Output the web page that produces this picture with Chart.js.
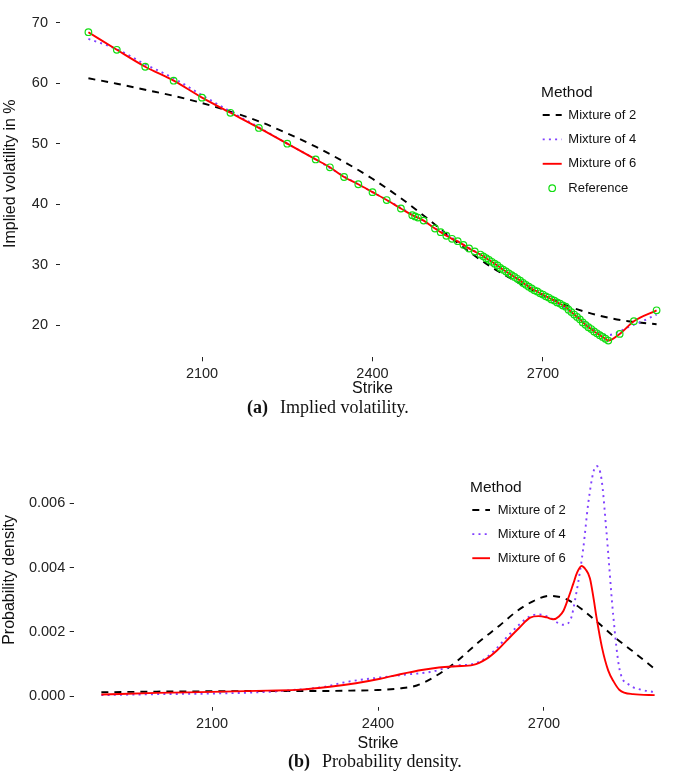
<!DOCTYPE html>
<html>
<head>
<meta charset="utf-8">
<script src="https://cdn.jsdelivr.net/npm/chart.js@4.4.1/dist/chart.umd.min.js"></script>
<style>
  html, body { margin: 0; padding: 0; background: #fff; }
  body { width: 685px; height: 781px; position: relative; overflow: hidden; }
  .box { position: absolute; left: 0; width: 685px; }
  .cap { position: absolute; font-family: "Liberation Serif", "Times New Roman", serif;
         font-size: 18px; line-height: 18px; color: #111; white-space: nowrap; }
  .cap span { margin-left: 12px; }
</style>
</head>
<body>
<div class="box" style="top:0;height:398px"><canvas id="iv" width="685" height="398"></canvas></div>
<div class="cap" style="left:247px;top:398px"><b>(a)</b><span>Implied volatility.</span></div>
<div class="box" style="top:440px;height:313px"><canvas id="dens" width="685" height="313"></canvas></div>
<div class="cap" style="left:288px;top:752px"><b>(b)</b><span>Probability density.</span></div>

<script>
/* ---- DATA: implied volatility ------------------------------- */
const refStrike = [1900, 1950, 2000, 2050, 2100, 2150, 2200, 2250, 2300, 2325, 2350, 2375, 2400, 2425, 2450,
  2470, 2475, 2480, 2490, 2510, 2520, 2530, 2540, 2550, 2560, 2570, 2580, 2590,
  2595, 2600, 2605, 2610, 2615, 2620, 2625, 2630, 2635, 2640, 2645, 2650, 2655, 2660, 2665, 2670, 2675, 2680,
  2685, 2690, 2695, 2700, 2705, 2710, 2715, 2720, 2725, 2730, 2735, 2740, 2745, 2750, 2755, 2760, 2765, 2770,
  2775, 2780, 2785, 2790, 2795, 2800, 2805, 2810, 2815, 2835, 2860, 2900];
const refVol = [68.4, 65.5, 62.7, 60.4, 57.6, 55.1, 52.6, 50.0, 47.4, 46.1, 44.5, 43.3, 42.0, 40.7, 39.3,
  38.2, 38.0, 37.8, 37.3, 36.0, 35.4, 34.8, 34.3, 33.9, 33.3, 32.7, 32.2, 31.7,
  31.4, 31.1, 30.8, 30.5, 30.2, 29.9, 29.5, 29.2, 28.9, 28.6, 28.3, 28.0, 27.7, 27.4, 27.0, 26.7, 26.4, 26.1,
  25.8, 25.6, 25.3, 25.1, 24.8, 24.6, 24.3, 24.1, 23.8, 23.6, 23.3, 23.1, 22.6, 22.2, 21.8, 21.4, 21.0, 20.5,
  20.1, 19.7, 19.4, 19.0, 18.7, 18.4, 18.1, 17.8, 17.5, 18.6, 20.7, 22.5];

// mixture of 6 goes through the quotes, so it uses refVol
const mix2Strike = [1900, 1950, 2000, 2050, 2100, 2150, 2200, 2250, 2300, 2350, 2400, 2450, 2500, 2550, 2600,
  2650, 2700, 2750, 2800, 2850, 2900];
const mix2Vol = [60.8, 59.9, 58.9, 57.9, 56.7, 55.3, 53.7, 51.7, 49.5, 47.0, 44.2, 41.0, 37.4, 33.6, 30.2,
  27.4, 25.0, 23.0, 21.6, 20.7, 20.2];

const mix4Strike = [1900, 1950, 2000, 2050, 2100, 2150, 2200, 2250, 2300, 2350, 2400, 2450, 2500, 2550, 2600,
  2650, 2700, 2750, 2780, 2800, 2815, 2830, 2850, 2875, 2900];
const mix4Vol = [67.3, 65.6, 63.1, 60.8, 58.0, 55.3, 52.7, 50.0, 47.4, 44.6, 42.0, 39.4, 36.6, 33.9, 31.1,
  28.0, 25.1, 22.2, 20.0, 18.8, 18.4, 18.8, 19.7, 20.7, 21.8];

/* ---- DATA: probability density ------------------------------ */
const d2Strike = [1900, 2000, 2100, 2200, 2300, 2350, 2400, 2440, 2470, 2500, 2540, 2580, 2620, 2650, 2680,
  2710, 2740, 2770, 2800, 2830, 2860, 2900];
const d2Val = [0.00012, 0.00014, 0.00015, 0.00016, 0.00016, 0.00017, 0.00019, 0.00024, 0.00033, 0.00058, 0.00105,
  0.00165, 0.00220, 0.00263, 0.00295, 0.00312, 0.00302, 0.00268, 0.00225, 0.00180, 0.00140, 0.00085];

const d4Strike = [1900, 2000, 2100, 2200, 2247, 2300, 2343, 2404, 2450, 2494, 2542, 2572, 2596, 2615, 2632,
  2655, 2675, 2690, 2711, 2725, 2735, 2747, 2759, 2771, 2780, 2789, 2795, 2804, 2813, 2825, 2837, 2855, 2875, 2898];
const d4Val = [0.00003, 0.00006, 0.00008, 0.00013, 0.00019, 0.00028, 0.00044, 0.00058, 0.00067, 0.00075, 0.00095,
  0.00100, 0.00120, 0.00150, 0.00182, 0.00222, 0.00249, 0.00254, 0.00244, 0.00228, 0.00222, 0.00234, 0.00326,
  0.00460, 0.00600, 0.00695, 0.00716, 0.00675, 0.00510, 0.00254, 0.00080, 0.00034, 0.00020, 0.00013];

const d6Strike = [1900, 2000, 2100, 2200, 2260, 2313, 2360, 2404, 2440, 2482, 2510, 2542, 2572, 2596, 2615,
  2632, 2655, 2675, 2690, 2705, 2717, 2727, 2735, 2745, 2753, 2760, 2768, 2775, 2783, 2790, 2795, 2805, 2816,
  2826, 2836, 2861, 2900];
const d6Val = [0.00005, 0.00010, 0.00013, 0.00017, 0.00020, 0.00029, 0.00040, 0.00054, 0.00068, 0.00082, 0.00089,
  0.00093, 0.00097, 0.00116, 0.00142, 0.00172, 0.00212, 0.00244, 0.00249, 0.00245, 0.00239, 0.00248, 0.00265,
  0.00310, 0.00350, 0.00385, 0.00405, 0.00395, 0.00367, 0.00300, 0.00244, 0.00150, 0.00080, 0.00045, 0.00020,
  0.00006, 0.00003];

const xTicks = [2100, 2400, 2700];
const ivTicks = [20, 30, 40, 50, 60, 70];
const densTicks = [0, 0.002, 0.004, 0.006];

/* ---- STYLE -------------------------------------------------- */
const FONT = '"Liberation Sans", Arial, Helvetica, sans-serif';
const INK = '#222';
const BLACK = '#000000', PURPLE = '#8040ff', RED = '#ff0000', GREEN = '#11dd11';

const pts = (xs, ys) => xs.map((x, i) => ({ x, y: ys[i] }));

function lineSet(label, xs, ys, color, dash, order) {
  return {
    label, data: pts(xs, ys), showLine: true, borderColor: color, borderWidth: 1.9,
    borderDash: dash, pointRadius: 0, cubicInterpolationMode: 'monotone', order
  };
}

/* ---- LEGEND (inside the panel, ggplot style) ---------------- */
const inlineLegend = {
  id: 'inlineLegend',
  afterDraw(chart, args, o) {
    const ctx = chart.ctx;
    ctx.save();
    ctx.fillStyle = '#111';
    ctx.textAlign = 'left';
    ctx.textBaseline = 'alphabetic';
    ctx.font = '15.5px ' + FONT;
    ctx.fillText('Method', o.x, o.titleY);
    ctx.font = '13px ' + FONT;
    o.items.forEach((label, i) => {
      const ds = chart.data.datasets.find(d => d.label === label);
      const y = o.firstY + i * o.step;
      ctx.save();
      if (ds.showLine) {
        ctx.strokeStyle = ds.borderColor;
        ctx.lineWidth = ds.borderWidth;
        ctx.setLineDash(ds.borderDash || []);
        ctx.beginPath();
        ctx.moveTo(o.keyX0, y);
        ctx.lineTo(o.keyX1, y);
        ctx.stroke();
      } else {
        ctx.strokeStyle = ds.pointBorderColor;
        ctx.lineWidth = ds.pointBorderWidth;
        ctx.beginPath();
        ctx.arc((o.keyX0 + o.keyX1) / 2, y, ds.pointRadius, 0, Math.PI * 2);
        ctx.stroke();
      }
      ctx.restore();
      ctx.textBaseline = 'middle';
      ctx.fillText(label, o.textX, y);
    });
    ctx.restore();
  }
};

function options(o) {
  return {
    responsive: false,
    animation: false,
    events: [],
    layout: { autoPadding: false, padding: o.pad },
    plugins: { legend: { display: false }, tooltip: { enabled: false }, inlineLegend: o.legend },
    scales: {
      x: {
        type: 'linear', min: 1850, max: 2950,
        afterBuildTicks: s => { s.ticks = xTicks.map(v => ({ value: v })); },
        afterFit: s => { s.height = o.xHeight; },
        grid: { drawOnChartArea: false, tickLength: 4, color: INK, lineWidth: 1 },
        border: { display: false },
        ticks: { font: { family: FONT, size: 14.5 }, color: INK, padding: o.xPad, maxRotation: 0,
                 callback: v => String(v) },
        title: { display: true, text: 'Strike', color: '#111', font: { family: FONT, size: 16 },
                 padding: { top: 0, bottom: 0 } }
      },
      y: {
        type: 'linear', min: o.yMin, max: o.yMax,
        afterBuildTicks: s => { s.ticks = o.yTicks.map(v => ({ value: v })); },
        afterFit: s => { s.width = o.yWidth; },
        grid: { drawOnChartArea: false, tickLength: 4, color: INK, lineWidth: 1 },
        border: { display: false },
        ticks: { font: { family: FONT, size: 14.5 }, color: INK, padding: o.yPad, callback: o.fmt },
        title: { display: true, text: o.yTitle, color: '#111', font: { family: FONT, size: 16 },
                 padding: { top: o.yTitlePad, bottom: 0 } }
      }
    }
  };
}

/* ---- CHART (a) ---------------------------------------------- */
new Chart(document.getElementById('iv'), {
  type: 'scatter',
  plugins: [inlineLegend],
  data: {
    datasets: [
      { label: 'Reference', data: pts(refStrike, refVol), showLine: false, pointStyle: 'circle',
        pointRadius: 3.3, pointBorderWidth: 1.2, pointBorderColor: GREEN,
        pointBackgroundColor: 'rgba(0,0,0,0)', order: 0 },
      lineSet('Mixture of 6', refStrike, refVol, RED, [], 1),
      lineSet('Mixture of 4', mix4Strike, mix4Vol, PURPLE, [2, 4.2], 2),
      lineSet('Mixture of 2', mix2Strike, mix2Vol, BLACK, [7, 6], 3)
    ]
  },
  options: options({
    pad: { top: 1.2, right: 0, bottom: 0, left: 0 },
    xHeight: 40.7, xPad: 4, yWidth: 60, yPad: 8, yTitlePad: 1,
    yMin: 14.74, yMax: 70.96, yTicks: ivTicks, fmt: v => String(v),
    // leading spaces lift the rotated title a little, as in the original
    yTitle: '      Implied volatility in %',
    legend: { x: 541, titleY: 96.5, firstY: 115, step: 24.4, keyX0: 542.7, keyX1: 561.7, textX: 568.3,
              items: ['Mixture of 2', 'Mixture of 4', 'Mixture of 6', 'Reference'] }
  })
});

/* ---- CHART (b) ---------------------------------------------- */
new Chart(document.getElementById('dens'), {
  type: 'scatter',
  plugins: [inlineLegend],
  data: {
    datasets: [
      lineSet('Mixture of 6', d6Strike, d6Val, RED, [], 1),
      lineSet('Mixture of 4', d4Strike, d4Val, PURPLE, [2, 4.2], 2),
      lineSet('Mixture of 2', d2Strike, d2Val, BLACK, [7, 6], 3)
    ]
  },
  options: options({
    pad: { top: 10.3, right: 2.7, bottom: 0, left: 0 },
    xHeight: 46.3, xPad: 5, yWidth: 73.7, yPad: 4.5, yTitlePad: 0,
    yMin: -0.00033, yMax: 0.00756, yTicks: densTicks, fmt: v => v.toFixed(3),
    yTitle: 'Probability density',
    legend: { x: 470, titleY: 52, firstY: 70, step: 24.1, keyX0: 472.3, keyX1: 490, textX: 497.7,
              items: ['Mixture of 2', 'Mixture of 4', 'Mixture of 6'] }
  })
});
</script>
</body>
</html>
